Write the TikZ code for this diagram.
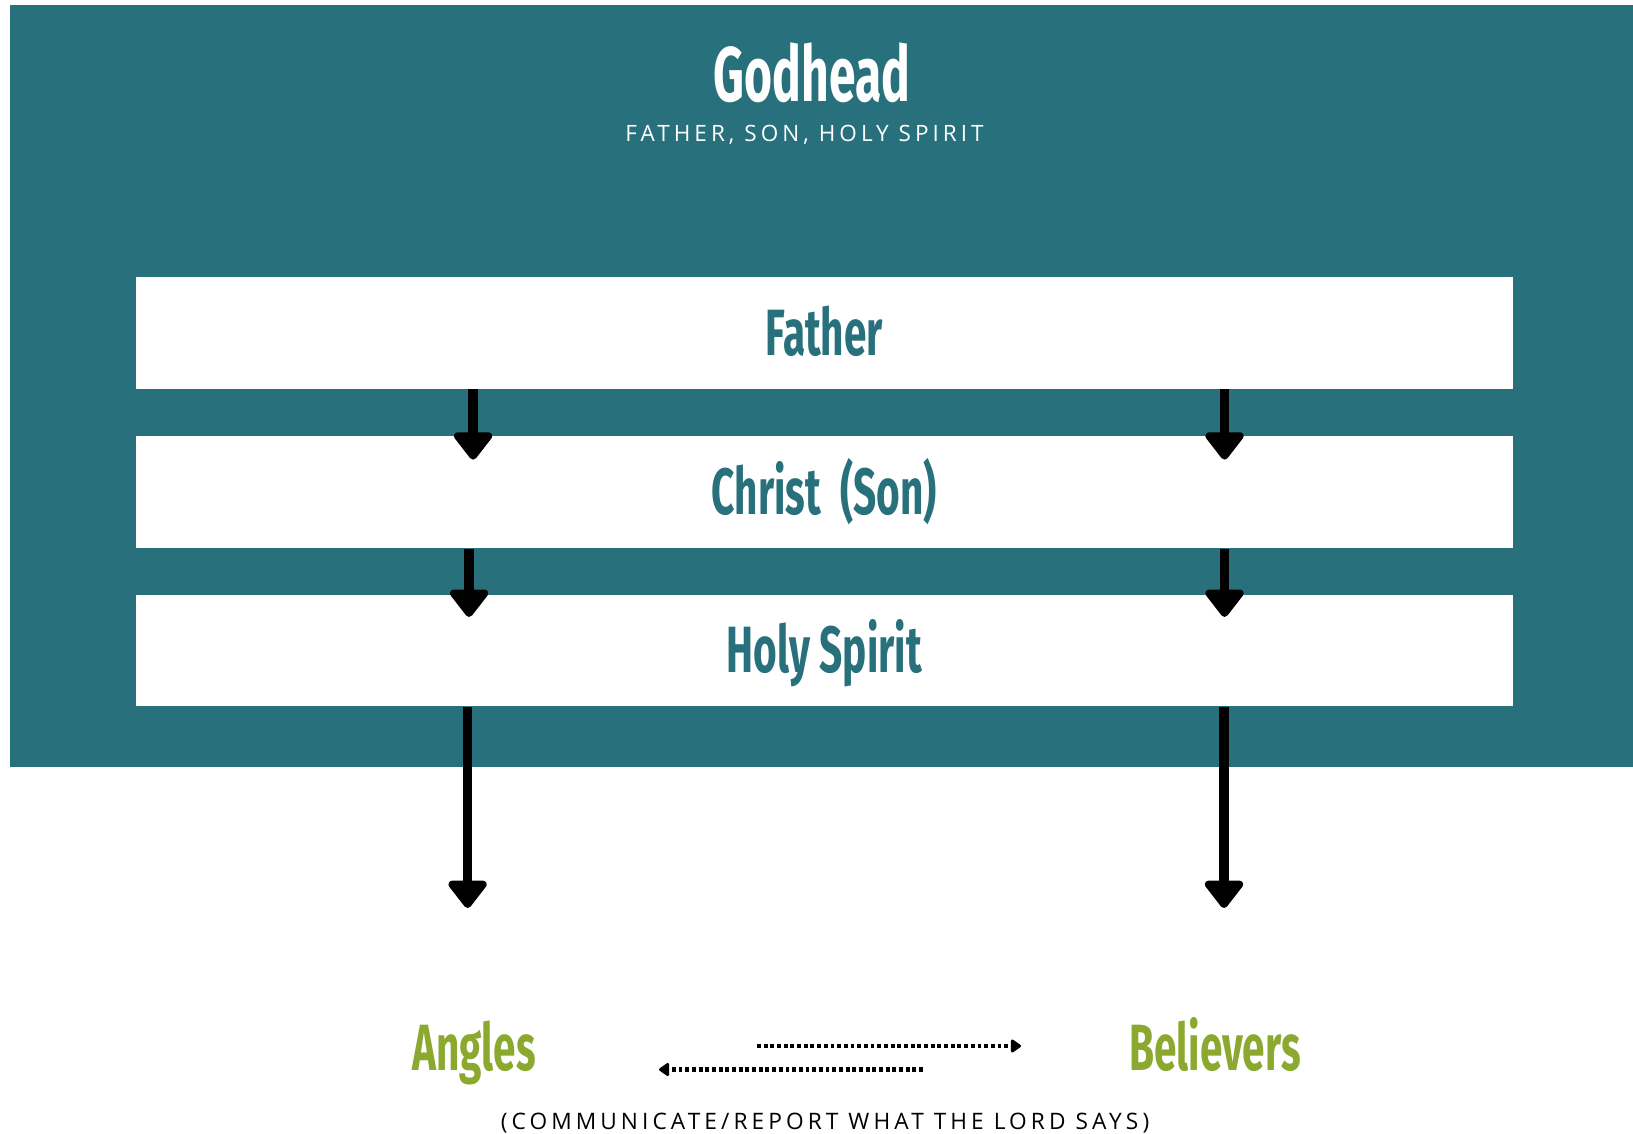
\documentclass[tikz,border=0pt]{standalone}
\usepackage{fontspec}
\usepackage{tikz}
\usetikzlibrary{arrows.meta,positioning}
\newfontfamily\headfont[FakeStretch=0.62]{Fira Sans}
\newfontfamily\capsfont[LetterSpace=18]{Open Sans}
\definecolor{godteal}{HTML}{28707C}
\definecolor{leafgreen}{HTML}{8BA92F}
\tikzset{
	bar/.style={fill=white, minimum width=13.76cm, minimum height=1.115cm, inner sep=0pt,
		text height=12.8pt, text depth=0pt, text=godteal, font=\headfont\bfseries\fontsize{18.6}{20}\selectfont},
	flow/.style={line width=2.65pt, -{Triangle[length=8.5pt,width=12.5pt,round]}},
	talk/.style={line width=1.25pt, dash pattern=on 1.1pt off 0.8pt, -{Triangle[length=3.2pt,width=4.2pt,round]}},
	who/.style={anchor=base, text=leafgreen, font=\headfont\bfseries\fontsize{18.6}{20}\selectfont}
}
\begin{document}
\begin{tikzpicture}[x=0.01cm, y=-0.01cm]
			\useasboundingbox (0,0) rectangle (1633,1134);
			\fill[godteal] (10,5) rectangle (1633,767);
			\node[anchor=base, text=white, font=\headfont\bfseries\fontsize{22}{24}\selectfont] (godhead) at (812,101.5) {Godhead};
			\node[anchor=base, text=white, font=\capsfont\fontsize{6.4}{8}\selectfont] (persons) at (804.5,141.5) {FATHER, SON, HOLY SPIRIT};
			\node[bar] (father) at (824.3,332.8) {Father};
			\node[bar] (christ) at (824.3,492.1) {Christ~~(Son)};
			\node[bar] (spirit) at (824.3,650.4) {Holy Spirit};
			\coordinate (angtip) at (467.6,908);
			\coordinate (beltip) at (1224,908);
			\node[who] (angels) at (474,1070.5) {Angles};
			\node[who] (believers) at (1215,1070.5) {Believers};
			\coordinate (sayfrom) at (757,1046);
			\coordinate (sayto) at (1021,1046);
			\coordinate (backfrom) at (923,1069.5);
			\coordinate (backto) at (659,1069.5);
			\node[anchor=base, text=black, font=\capsfont\fontsize{6.45}{8}\selectfont] (report) at (825,1129) {(COMMUNICATE/REPORT WHAT THE LORD SAYS)};

			\draw [flow] ([xshift=-3.51cm]father.south) to ([xshift=-3.51cm, yshift=-0.24cm]christ.north);
			\draw [flow] ([xshift=4cm]father.south) to ([xshift=4cm, yshift=-0.24cm]christ.north);
			\draw [flow] ([xshift=-3.55cm]christ.south) to ([xshift=-3.55cm, yshift=-0.23cm]spirit.north);
			\draw [flow] ([xshift=4cm]christ.south) to ([xshift=4cm, yshift=-0.23cm]spirit.north);
			\draw [flow] (spirit.south -| angtip) to (angtip);
			\draw [flow] (spirit.south -| beltip) to (beltip);
			\draw [talk] (sayfrom) to (sayto);
			\draw [talk] (backfrom) to (backto);
		\end{tikzpicture}
\end{document}
